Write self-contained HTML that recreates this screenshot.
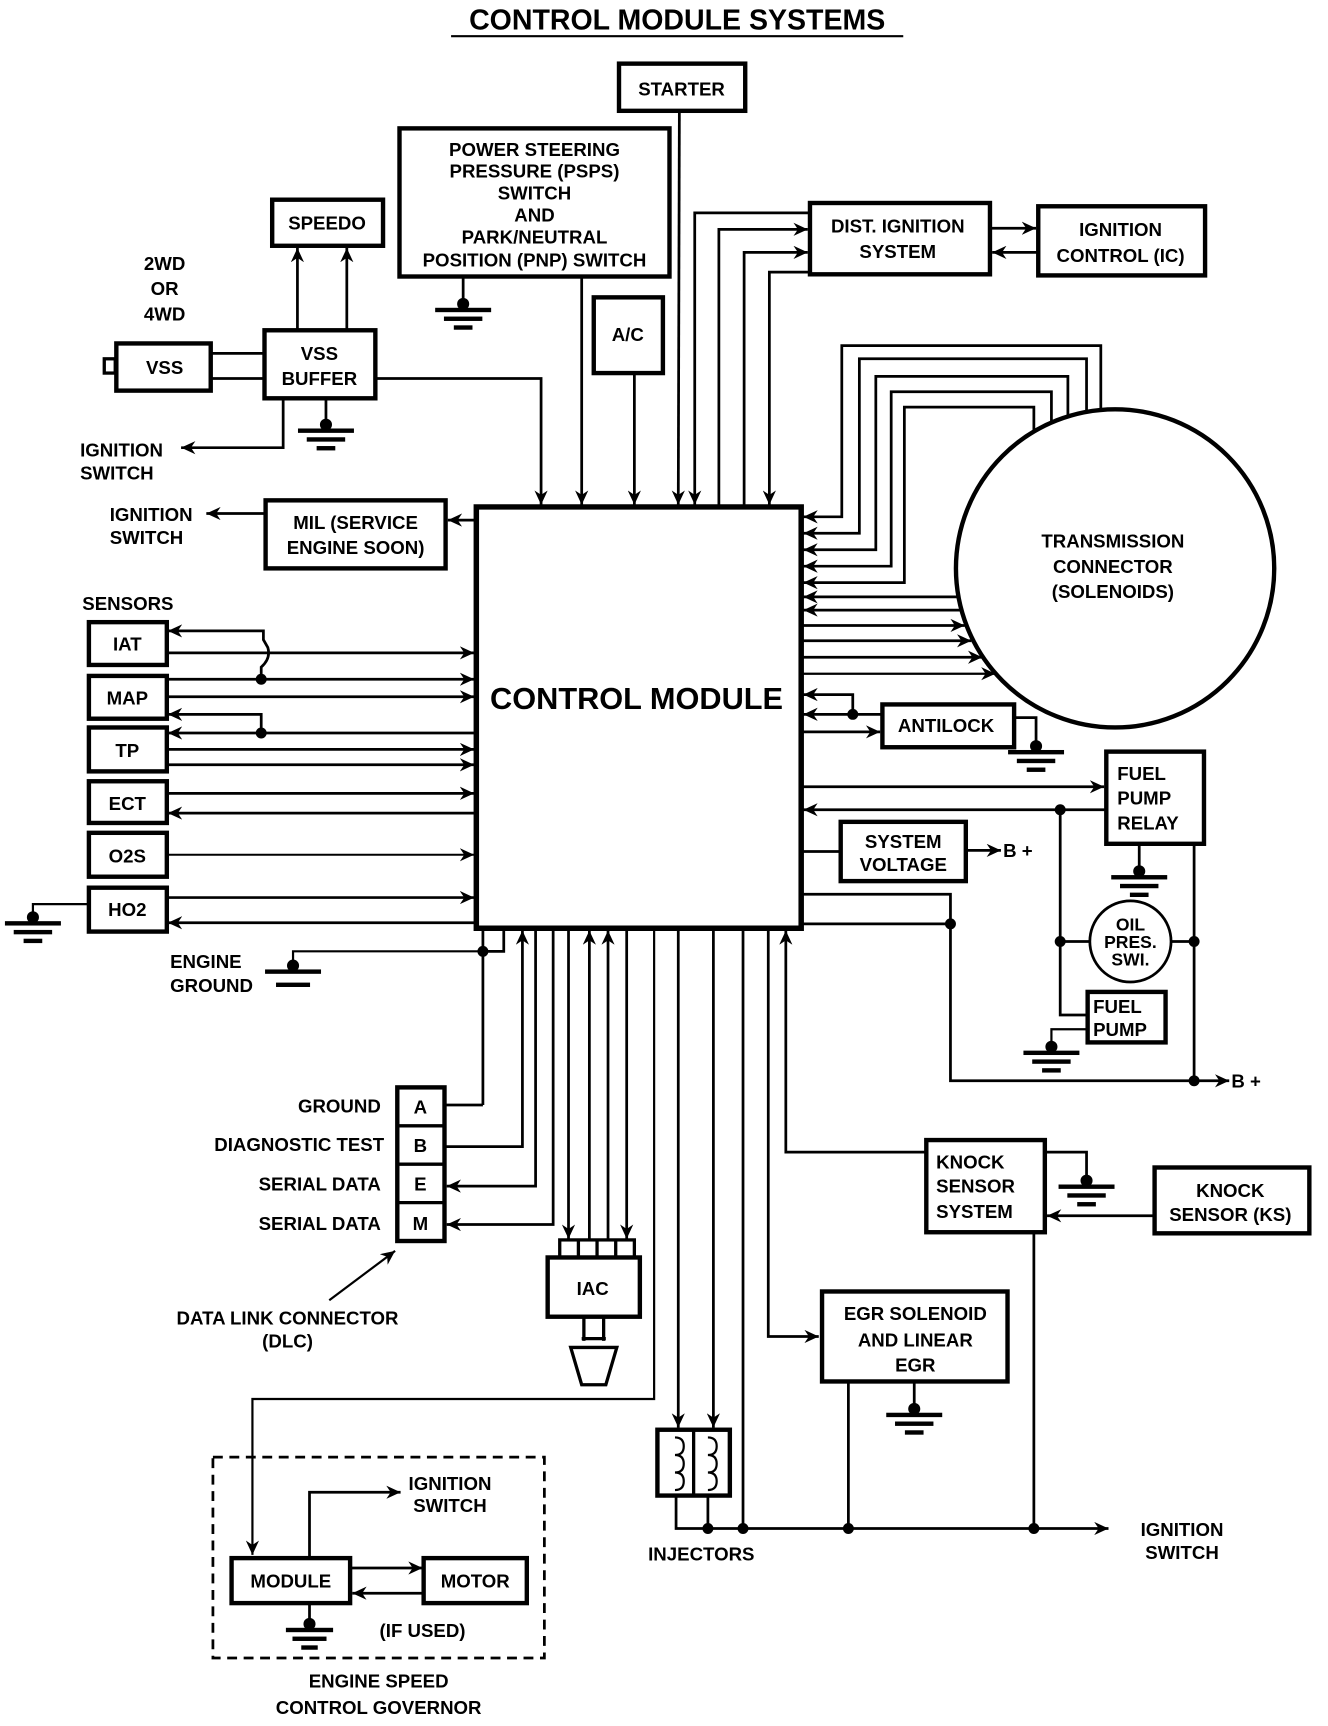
<!DOCTYPE html>
<html><head><meta charset="utf-8"><style>
html,body{margin:0;padding:0;background:#fff}
svg{display:block}
text{font-family:"Liberation Sans",sans-serif;font-weight:bold;fill:#000}
</style></head><body>
<svg width="1328" height="1726" viewBox="0 0 1210 1573" preserveAspectRatio="none" xmlns="http://www.w3.org/2000/svg">
<defs>
<marker id="a" markerUnits="userSpaceOnUse" markerWidth="14" markerHeight="12" refX="13" refY="6" orient="auto"><path d="M0,0 L13,6 L0,12 L4,6 Z" fill="#000"/></marker>
</defs>
<g fill="none" stroke="#000" stroke-width="2.5">
<!-- title -->
<line x1="411" y1="33" x2="823" y2="33" stroke-width="2"/>
<!-- control module -->
<path d="M434,462 L730,462 L730,846 L434,846 Z" stroke-width="5"/>
<!-- starter -->
<rect x="564" y="58" width="115" height="43" stroke-width="4"/>
<line x1="619" y1="101" x2="618" y2="460" marker-end="url(#a)"/>
<!-- PSPS -->
<rect x="364" y="117" width="246" height="135" stroke-width="4"/>
<line x1="530" y1="252" x2="530" y2="460" marker-end="url(#a)"/>
<line x1="422" y1="252" x2="422" y2="272"/>
<!-- A/C -->
<rect x="541" y="271" width="63" height="69" stroke-width="4"/>
<line x1="578" y1="340" x2="578" y2="460" marker-end="url(#a)"/>
<!-- speedo -->
<rect x="248" y="182" width="101" height="42" stroke-width="4"/>
<line x1="271" y1="300" x2="271" y2="226" marker-end="url(#a)"/>
<line x1="316" y1="300" x2="316" y2="226" marker-end="url(#a)"/>
<!-- VSS -->
<rect x="106" y="313" width="86" height="43" stroke-width="4"/>
<rect x="95" y="327" width="10" height="13" stroke-width="3"/>
<line x1="192" y1="322" x2="240" y2="322"/>
<line x1="192" y1="345" x2="240" y2="345"/>
<rect x="241" y="301" width="101" height="62" stroke-width="4"/>
<polyline points="342,345 493,345 493,460" marker-end="url(#a)"/>
<line x1="297" y1="363" x2="297" y2="385"/>
<polyline points="258,363 258,408 165,408" marker-end="url(#a)"/>
<!-- MIL -->
<rect x="242" y="456" width="164" height="62" stroke-width="4"/>
<line x1="434" y1="474" x2="408" y2="474" marker-end="url(#a)"/>
<line x1="242" y1="468" x2="188" y2="468" marker-end="url(#a)"/>
<!-- sensors -->
<rect x="81" y="567" width="71" height="39" stroke-width="4"/>
<rect x="81" y="616" width="71" height="39" stroke-width="4"/>
<rect x="81" y="663" width="71" height="40" stroke-width="4"/>
<rect x="81" y="712" width="71" height="38" stroke-width="4"/>
<rect x="81" y="759" width="71" height="40" stroke-width="4"/>
<rect x="81" y="809" width="71" height="40" stroke-width="4"/>
<path d="M238,619 L238,608 Q247,600 244,590 L240,583 L240,575 L153,575" marker-end="url(#a)"/>
<line x1="152" y1="595" x2="432" y2="595" marker-end="url(#a)"/>
<line x1="152" y1="619" x2="432" y2="619" marker-end="url(#a)"/>
<line x1="152" y1="635" x2="432" y2="635" marker-end="url(#a)"/>
<polyline points="238,668 238,651 153,651" marker-end="url(#a)"/>
<line x1="434" y1="668" x2="153" y2="668" marker-end="url(#a)"/>
<line x1="152" y1="683" x2="432" y2="683" marker-end="url(#a)"/>
<line x1="152" y1="697" x2="432" y2="697" marker-end="url(#a)"/>
<line x1="152" y1="723" x2="432" y2="723" marker-end="url(#a)"/>
<line x1="434" y1="741" x2="153" y2="741" marker-end="url(#a)"/>
<line x1="152" y1="779" x2="432" y2="779" stroke-width="1.8" marker-end="url(#a)"/>
<line x1="152" y1="818" x2="432" y2="818" marker-end="url(#a)"/>
<line x1="434" y1="841" x2="153" y2="841" marker-end="url(#a)"/>
<polyline points="81,824 30,824 30,838" stroke-width="2"/>
<!-- engine ground -->
<polyline points="459,846 459,867 440,867"/>
<line x1="440" y1="846" x2="440" y2="1007"/>
<polyline points="440,867 267,867 267,882" stroke-width="2"/>
<!-- DLC -->
<rect x="362" y="991" width="43" height="140" stroke-width="4"/>
<line x1="362" y1="1026" x2="405" y2="1026" stroke-width="3"/>
<line x1="362" y1="1061" x2="405" y2="1061" stroke-width="3"/>
<line x1="362" y1="1096" x2="405" y2="1096" stroke-width="3"/>
<line x1="405" y1="1007" x2="440" y2="1007"/>
<polyline points="405,1045 476,1045 476,848" marker-end="url(#a)"/>
<polyline points="488,848 488,1081 407,1081" marker-end="url(#a)"/>
<polyline points="504,848 504,1116 407,1116" marker-end="url(#a)"/>
<line x1="300" y1="1185" x2="360" y2="1140" stroke-width="2" marker-end="url(#a)"/>
<!-- IAC -->
<line x1="518" y1="848" x2="518" y2="1129" marker-end="url(#a)"/>
<line x1="537" y1="1129" x2="537" y2="848" marker-end="url(#a)"/>
<line x1="554" y1="1129" x2="554" y2="848" marker-end="url(#a)"/>
<line x1="571" y1="848" x2="571" y2="1129" marker-end="url(#a)"/>
<rect x="510" y="1130" width="68" height="16" stroke-width="3"/>
<line x1="527" y1="1130" x2="527" y2="1146" stroke-width="3"/>
<line x1="544" y1="1130" x2="544" y2="1146" stroke-width="3"/>
<line x1="561" y1="1130" x2="561" y2="1146" stroke-width="3"/>
<rect x="499" y="1146" width="84" height="54" stroke-width="4"/>
<line x1="532" y1="1200" x2="532" y2="1222" stroke-width="3"/>
<line x1="550" y1="1200" x2="550" y2="1222" stroke-width="3"/>
<line x1="530" y1="1220" x2="552" y2="1220" stroke-width="3"/>
<path d="M520,1228 L562,1228 L552,1262 L530,1262 Z" stroke-width="3"/>
<!-- governor feed -->
<polyline points="596,848 596,1275 230,1275 230,1417" stroke-width="2" marker-end="url(#a)"/>
<!-- injectors -->
<line x1="618" y1="848" x2="618" y2="1301" marker-end="url(#a)"/>
<line x1="650" y1="848" x2="650" y2="1301" marker-end="url(#a)"/>
<rect x="599" y="1303" width="66" height="60" stroke-width="4"/>
<line x1="632" y1="1303" x2="632" y2="1363" stroke-width="3"/>
<path d="M615,1310 q8,0 8,8 q0,8 -8,8 q8,0 8,8 q0,8 -8,8 q8,0 8,8 q0,8 -8,8" stroke-width="2"/>
<path d="M645,1310 q8,0 8,8 q0,8 -8,8 q8,0 8,8 q0,8 -8,8 q8,0 8,8 q0,8 -8,8" stroke-width="2"/>
<polyline points="616,1363 616,1393 1010,1393" marker-end="url(#a)"/>
<line x1="645" y1="1363" x2="645" y2="1393"/>
<line x1="677" y1="848" x2="677" y2="1393"/>
<!-- EGR -->
<polyline points="700,848 700,1218 746,1218" marker-end="url(#a)"/>
<rect x="749" y="1177" width="169" height="82" stroke-width="4"/>
<line x1="833" y1="1259" x2="833" y2="1280"/>
<line x1="773" y1="1259" x2="773" y2="1393"/>
<line x1="942" y1="1124" x2="942" y2="1393"/>
<!-- knock -->
<polyline points="844,1050 716,1050 716,848" marker-end="url(#a)"/>
<rect x="844" y="1039" width="108" height="84" stroke-width="4"/>
<polyline points="952,1050 990,1050 990,1072"/>
<rect x="1052" y="1064" width="141" height="60" stroke-width="4"/>
<line x1="1052" y1="1108" x2="954" y2="1108" marker-end="url(#a)"/>
<!-- governor -->
<rect x="194" y="1328" width="302" height="183" stroke-width="2.5" stroke-dasharray="9,6"/>
<rect x="211" y="1420" width="108" height="41" stroke-width="4"/>
<rect x="386" y="1420" width="94" height="41" stroke-width="4"/>
<polyline points="282,1420 282,1360 365,1360" marker-end="url(#a)"/>
<line x1="319" y1="1429" x2="385" y2="1429" marker-end="url(#a)"/>
<line x1="386" y1="1452" x2="321" y2="1452" marker-end="url(#a)"/>
<line x1="282" y1="1461" x2="282" y2="1476"/>
<!-- DIST ignition -->
<rect x="738" y="185" width="164" height="65" stroke-width="4"/>
<rect x="946" y="188" width="152" height="63" stroke-width="4"/>
<line x1="902" y1="208" x2="944" y2="208" marker-end="url(#a)"/>
<line x1="946" y1="230" x2="904" y2="230" marker-end="url(#a)"/>
<polyline points="738,194 633,194 633,460" marker-end="url(#a)"/>
<polyline points="655,462 655,209 736,209" marker-end="url(#a)"/>
<polyline points="678,462 678,230 736,230" marker-end="url(#a)"/>
<polyline points="738,248 701,248 701,460" marker-end="url(#a)"/>
<!-- transmission loops -->
<polyline points="1003,390 1003,315 767,315 767,471 732,471" marker-end="url(#a)"/>
<polyline points="990,390 990,327 783,327 783,486 732,486" marker-end="url(#a)"/>
<polyline points="973,390 973,343 798,343 798,501 732,501" marker-end="url(#a)"/>
<polyline points="958,400 958,357 812,357 812,516 732,516" marker-end="url(#a)"/>
<polyline points="942,400 942,371 824,371 824,531 732,531" marker-end="url(#a)"/>
<line x1="900" y1="544" x2="732" y2="544" marker-end="url(#a)"/>
<line x1="900" y1="556" x2="732" y2="556" marker-end="url(#a)"/>
<line x1="730" y1="570" x2="879" y2="570" marker-end="url(#a)"/>
<line x1="730" y1="584" x2="885" y2="584" marker-end="url(#a)"/>
<line x1="730" y1="599" x2="895" y2="599" marker-end="url(#a)"/>
<line x1="730" y1="614" x2="907" y2="614" stroke-width="2" marker-end="url(#a)"/>
<circle cx="1016" cy="518" r="145" fill="#fff" stroke-width="4"/>
<!-- antilock -->
<polyline points="777,651 777,633 732,633" marker-end="url(#a)"/>
<line x1="804" y1="651" x2="732" y2="651" marker-end="url(#a)"/>
<line x1="730" y1="667" x2="802" y2="667" marker-end="url(#a)"/>
<rect x="804" y="642" width="120" height="39" stroke-width="4"/>
<polyline points="924,654 944,654 944,676"/>
<!-- fuel pump relay -->
<rect x="1008" y="685" width="89" height="84" stroke-width="4"/>
<line x1="730" y1="717" x2="1006" y2="717" marker-end="url(#a)"/>
<line x1="1008" y1="738" x2="732" y2="738" marker-end="url(#a)"/>
<line x1="1038" y1="769" x2="1038" y2="790"/>
<polyline points="966,738 966,925 990,925"/>
<line x1="966" y1="858" x2="993" y2="858"/>
<circle cx="1030" cy="858" r="37" stroke-width="2.5"/>
<line x1="1067" y1="858" x2="1088" y2="858"/>
<line x1="1088" y1="769" x2="1088" y2="985"/>
<rect x="991" y="904" width="71" height="46" stroke-width="4"/>
<polyline points="991,938 958,938 958,950" stroke-width="2"/>
<!-- system voltage -->
<line x1="730" y1="776" x2="766" y2="776"/>
<rect x="766" y="749" width="114" height="54" stroke-width="4"/>
<line x1="880" y1="775" x2="912" y2="775" marker-end="url(#a)"/>
<polyline points="730,815 866,815 866,985 1120,985" marker-end="url(#a)"/>
<line x1="730" y1="842" x2="866" y2="842"/>
</g>
<!-- dots -->
<g fill="#000">
<circle cx="238" cy="619" r="5"/><circle cx="238" cy="668" r="5"/>
<circle cx="440" cy="867" r="5"/>
<circle cx="777" cy="651" r="5"/>
<circle cx="966" cy="738" r="5"/><circle cx="966" cy="858" r="5"/>
<circle cx="1088" cy="858" r="5"/><circle cx="1088" cy="985" r="5"/>
<circle cx="866" cy="842" r="5"/>
<circle cx="645" cy="1393" r="5"/><circle cx="677" cy="1393" r="5"/>
<circle cx="773" cy="1393" r="5"/><circle cx="942" cy="1393" r="5"/>
</g>
<!-- grounds -->
<g fill="#000" stroke="#000">
<g transform="translate(422,283)"><circle r="5" cy="-6"/><rect x="-25" y="-2" width="50" height="3"/><rect x="-17" y="6" width="34" height="3"/><rect x="-8" y="14" width="16" height="3"/></g>
<g transform="translate(297,393)"><circle r="5" cy="-6"/><rect x="-25" y="-2" width="50" height="3"/><rect x="-17" y="6" width="34" height="3"/><rect x="-8" y="14" width="16" height="3"/></g>
<g transform="translate(30,842)"><circle r="5" cy="-6"/><rect x="-25" y="-2" width="50" height="3"/><rect x="-17" y="6" width="34" height="3"/><rect x="-8" y="14" width="16" height="3"/></g>
<g transform="translate(267,886)"><circle r="5" cy="-6"/><rect x="-25" y="-2" width="50" height="3"/><rect x="-15" y="10" width="30" height="3"/></g>
<g transform="translate(944,686)"><circle r="5" cy="-6"/><rect x="-25" y="-2" width="50" height="3"/><rect x="-17" y="6" width="34" height="3"/><rect x="-8" y="14" width="16" height="3"/></g>
<g transform="translate(1038,800)"><circle r="5" cy="-6"/><rect x="-25" y="-2" width="50" height="3"/><rect x="-17" y="6" width="34" height="3"/><rect x="-8" y="14" width="16" height="3"/></g>
<g transform="translate(958,960)"><circle r="5" cy="-6"/><rect x="-25" y="-2" width="50" height="3"/><rect x="-17" y="6" width="34" height="3"/><rect x="-8" y="14" width="16" height="3"/></g>
<g transform="translate(990,1082)"><circle r="5" cy="-6"/><rect x="-25" y="-2" width="50" height="3"/><rect x="-17" y="6" width="34" height="3"/><rect x="-8" y="14" width="16" height="3"/></g>
<g transform="translate(833,1290)"><circle r="5" cy="-6"/><rect x="-25" y="-2" width="50" height="3"/><rect x="-17" y="6" width="34" height="3"/><rect x="-8" y="14" width="16" height="3"/></g>
<g transform="translate(282,1486)"><circle r="5" cy="-6"/><rect x="-21" y="-2" width="42" height="3"/><rect x="-15" y="6" width="30" height="3"/><rect x="-7" y="14" width="14" height="3"/></g>
</g>
<!-- text -->
<g font-size="17" text-anchor="middle">
<text x="617" y="27" font-size="26">CONTROL MODULE SYSTEMS</text>
<text x="580" y="646" font-size="28">CONTROL MODULE</text>
<text x="621" y="87">STARTER</text>
<text x="487" y="142">POWER STEERING</text>
<text x="487" y="162">PRESSURE (PSPS)</text>
<text x="487" y="182">SWITCH</text>
<text x="487" y="202">AND</text>
<text x="487" y="222">PARK/NEUTRAL</text>
<text x="487" y="243">POSITION (PNP) SWITCH</text>
<text x="572" y="311">A/C</text>
<text x="298" y="209">SPEEDO</text>
<text x="150" y="246">2WD</text>
<text x="150" y="269">OR</text>
<text x="150" y="292">4WD</text>
<text x="150" y="341">VSS</text>
<text x="291" y="328">VSS</text>
<text x="291" y="351">BUFFER</text>
<text x="324" y="482">MIL (SERVICE</text>
<text x="324" y="505">ENGINE SOON)</text>
<text x="116" y="593">IAT</text>
<text x="116" y="642">MAP</text>
<text x="116" y="690">TP</text>
<text x="116" y="738">ECT</text>
<text x="116" y="786">O2S</text>
<text x="116" y="835">HO2</text>
<text x="383" y="1015">A</text>
<text x="383" y="1050">B</text>
<text x="383" y="1085">E</text>
<text x="383" y="1121">M</text>
<text x="262" y="1207">DATA LINK CONNECTOR</text>
<text x="262" y="1228">(DLC)</text>
<text x="540" y="1180">IAC</text>
<text x="639" y="1422">INJECTORS</text>
<text x="265" y="1447">MODULE</text>
<text x="433" y="1447">MOTOR</text>
<text x="410" y="1358">IGNITION</text>
<text x="410" y="1378">SWITCH</text>
<text x="385" y="1492">(IF USED)</text>
<text x="345" y="1538">ENGINE SPEED</text>
<text x="345" y="1562">CONTROL GOVERNOR</text>
<text x="818" y="212">DIST. IGNITION</text>
<text x="818" y="235">SYSTEM</text>
<text x="1021" y="215">IGNITION</text>
<text x="1021" y="239">CONTROL (IC)</text>
<text x="1014" y="499">TRANSMISSION</text>
<text x="1014" y="522">CONNECTOR</text>
<text x="1014" y="545">(SOLENOIDS)</text>
<text x="862" y="667">ANTILOCK</text>
<text x="823" y="773">SYSTEM</text>
<text x="823" y="794">VOLTAGE</text>
<text x="1030" y="848" font-size="16">OIL</text>
<text x="1030" y="864" font-size="16">PRES.</text>
<text x="1030" y="880" font-size="16">SWI.</text>
<text x="1121" y="1091">KNOCK</text>
<text x="1121" y="1113">SENSOR (KS)</text>
<text x="834" y="1203">EGR SOLENOID</text>
<text x="834" y="1227">AND LINEAR</text>
<text x="834" y="1250">EGR</text>
<text x="1077" y="1400">IGNITION</text>
<text x="1077" y="1421">SWITCH</text>
</g>
<g font-size="17" text-anchor="start">
<text x="73" y="416">IGNITION</text>
<text x="73" y="437">SWITCH</text>
<text x="100" y="475">IGNITION</text>
<text x="100" y="496">SWITCH</text>
<text x="75" y="556">SENSORS</text>
<text x="155" y="882">ENGINE</text>
<text x="155" y="904">GROUND</text>
<text x="1018" y="711">FUEL</text>
<text x="1018" y="733">PUMP</text>
<text x="1018" y="756">RELAY</text>
<text x="996" y="923">FUEL</text>
<text x="996" y="944">PUMP</text>
<text x="853" y="1065">KNOCK</text>
<text x="853" y="1087">SENSOR</text>
<text x="853" y="1110">SYSTEM</text>
<text x="914" y="781">B +</text>
<text x="1122" y="991">B +</text>
</g>
<g font-size="17" text-anchor="end">
<text x="347" y="1014">GROUND</text>
<text x="350" y="1049">DIAGNOSTIC TEST</text>
<text x="347" y="1085">SERIAL DATA</text>
<text x="347" y="1121">SERIAL DATA</text>
</g>
</svg>
</body></html>
